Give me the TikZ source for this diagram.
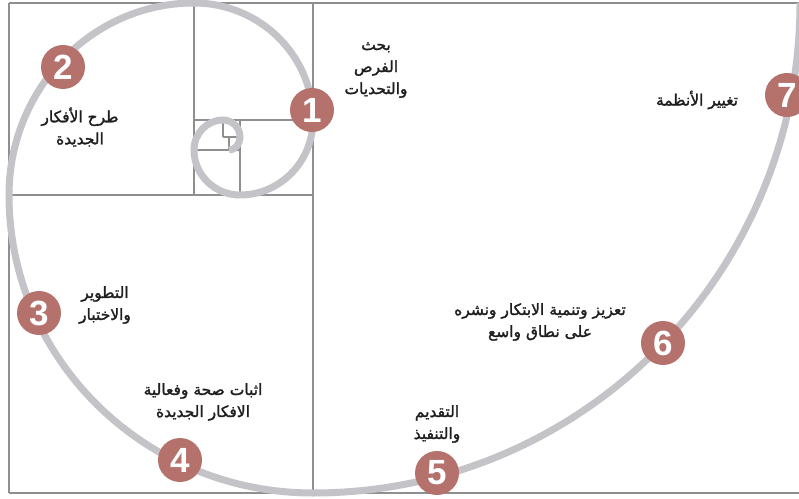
\documentclass[tikz,border=0pt]{standalone}
\usepackage{fontspec}
\setmainfont{Liberation Sans}
\newfontfamily\arabicfont[Script=Arabic,FakeBold=1.6]{DejaVu Sans}
\TeXXeTstate=1
\newcommand{\arl}[1]{\beginR #1\endR}
\definecolor{framegray}{HTML}{8F8F8F}
\definecolor{spiralgray}{HTML}{C4C4C8}
\definecolor{badgerose}{HTML}{B5716C}
\definecolor{textdark}{HTML}{1E1E1E}
\begin{document}
\begin{tikzpicture}[x=1pt,y=1pt,
  frameline/.style={draw=framegray,line width=2.2pt},
  spiralline/.style={draw=spiralgray,line width=7pt},
  badge/.style={circle,fill=badgerose,minimum size=44pt,inner sep=0pt,text=white,
     font=\fontsize{35}{35}\selectfont\bfseries},
  lbl/.style={align=center,text=textdark,inner sep=0pt,
     font=\arabicfont\fontsize{15.5}{22}\selectfont}]
\useasboundingbox (0,0) rectangle (799,498);
\clip (0,0) rectangle (799,498);
\fill[white] (0,0) rectangle (799,498);
% frame
\draw[frameline] (9,495) -- (805,495);
\draw[frameline] (9,5) -- (805,5);
\draw[frameline] (9,5) -- (9,495);
\draw[frameline] (313,5) -- (313,495);
\draw[frameline] (9,303) -- (313,303);
\draw[frameline] (194,303) -- (194,495);
\draw[frameline] (194,378) -- (313,378);
\draw[frameline] (240,303) -- (240,378);
\draw[frameline] (194,348) -- (240,348);
\draw[frameline] (223,361) -- (223,378);
\draw[frameline] (223,361) -- (240,361);
\draw[frameline] (229,348) -- (229,361);
% spiral
\draw[spiralline] (800,495)
  arc[start angle=0,end angle=-90,x radius=487pt,y radius=490pt]
  arc[start angle=-90,end angle=-180,x radius=304pt,y radius=298pt]
  arc[start angle=180,end angle=90,x radius=185pt,y radius=192pt]
  arc[start angle=90,end angle=0,x radius=119pt,y radius=117pt]
  arc[start angle=0,end angle=-90,x radius=73pt,y radius=75pt]
  arc[start angle=-90,end angle=-180,x radius=46pt,y radius=45pt]
  arc[start angle=180,end angle=90,x radius=29pt,y radius=30pt]
  arc[start angle=90,end angle=0,x radius=17pt,y radius=17pt]
  arc[start angle=0,end angle=-90,x radius=11pt,y radius=13pt];
% badges
\node[badge] (b1) at (312,388) {1};
\node[badge] (b2) at (63,431) {2};
\node[badge] (b3) at (39,185) {3};
\node[badge] (b4) at (180,38) {4};
\node[badge] (b5) at (437,25) {5};
\node[badge] (b6) at (663,155) {6};
\node[badge] (b7) at (787,403) {7};
% labels
\node[lbl] (t1) at (376,428) {\arl{بحث}\\\arl{الفرص}\\\arl{والتحديات}};
\node[lbl] (t2) at (80,371) {\arl{طرح الأفكار}\\\arl{الجديدة}};
\node[lbl] (t7) at (697,398) {\arl{تغيير الأنظمة}};
\node[lbl] (t3) at (105,193) {\arl{التطوير}\\\arl{والاختبار}};
\node[lbl] (t4) at (203,96) {\arl{اثبات صحة وفعالية}\\\arl{الافكار الجديدة}};
\node[lbl] (t5) at (437,74) {\arl{التقديم}\\\arl{والتنفيذ}};
\node[lbl] (t6) at (540,176) {\arl{تعزيز وتنمية الابتكار ونشره}\\\arl{على نطاق واسع}};
\end{tikzpicture}
\end{document}
